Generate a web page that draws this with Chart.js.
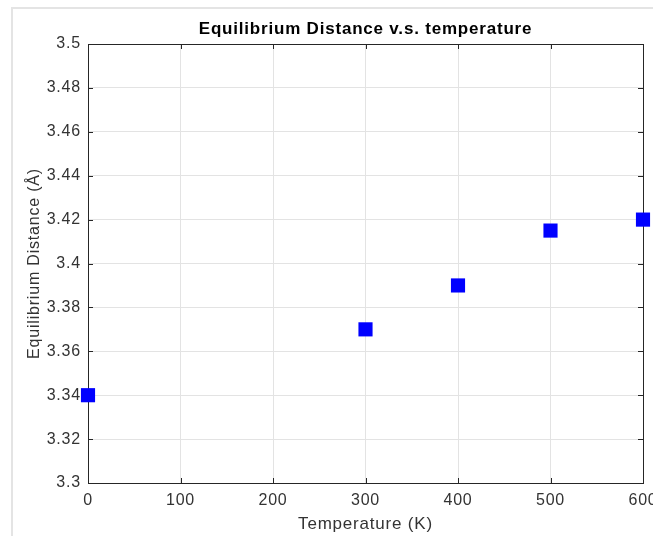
<!DOCTYPE html>
<html>
<head>
<meta charset="utf-8">
<script src="https://cdn.jsdelivr.net/npm/chart.js@4/dist/chart.umd.min.js"></script>
<style>
  html, body { margin: 0; padding: 0; background: #fff; }
  #wrap { width: 653px; height: 536px; }
</style>
</head>
<body>
<div id="wrap"><canvas id="eqChart" width="653" height="536"></canvas></div>
<script>
// temperatures (K) and equilibrium distance (Å)
const temperatures = [0, 300, 400, 500, 600];
const distances = [3.34, 3.37, 3.39, 3.415, 3.42];
const xTicks = [0, 100, 200, 300, 400, 500, 600];
const yTicks = [3.3, 3.32, 3.34, 3.36, 3.38, 3.4, 3.42, 3.44, 3.46, 3.48, 3.5];

const axisColor = "#262626";
const labelColor = "#333333";
const fontFamily = "'Liberation Sans', Arial, Helvetica, sans-serif";
const spacing = "0.8px"; // matlab text renders a bit wider than arial

// matlab-like box with inward ticks, plus the grey figure edge
const matlabBox = {
    id: "matlabBox",
    beforeLayout(chart) {
        chart.ctx.letterSpacing = spacing;
    },
    beforeDraw(chart) {
        const ctx = chart.ctx;
        ctx.letterSpacing = spacing;
        ctx.save();
        ctx.fillStyle = "#fff";
        ctx.fillRect(0, 0, chart.width, chart.height);
        ctx.strokeStyle = "#e4e4e4";
        ctx.lineWidth = 2;
        ctx.beginPath();
        ctx.moveTo(12, chart.height);
        ctx.lineTo(12, 8);
        ctx.lineTo(chart.width, 8);
        ctx.stroke();
        ctx.restore();
    },
    beforeDatasetsDraw(chart) {
        const { ctx, chartArea: a, scales } = chart;
        const len = 5;
        ctx.save();
        ctx.strokeStyle = axisColor;
        ctx.lineWidth = 1;
        ctx.beginPath();
        scales.x.ticks.forEach((t, i) => {
            const px = Math.round(scales.x.getPixelForTick(i)) + 0.5;
            ctx.moveTo(px, a.bottom); ctx.lineTo(px, a.bottom - len);
            ctx.moveTo(px, a.top); ctx.lineTo(px, a.top + len);
        });
        scales.y.ticks.forEach((t, i) => {
            const py = Math.round(scales.y.getPixelForTick(i)) + 0.5;
            ctx.moveTo(a.left, py); ctx.lineTo(a.left + len, py);
            ctx.moveTo(a.right, py); ctx.lineTo(a.right - len, py);
        });
        ctx.stroke();
        ctx.strokeRect(Math.round(a.left) + 0.5, Math.round(a.top) + 0.5,
            Math.round(a.right - a.left), Math.round(a.bottom - a.top));
        ctx.restore();
    }
};

new Chart(document.getElementById("eqChart"), {
    type: "scatter",
    data: {
        datasets: [{
            data: temperatures.map((t, i) => ({ x: t, y: distances[i] })),
            pointStyle: "rect",
            pointRadius: 10,
            pointHoverRadius: 10,
            backgroundColor: "#0000ff",
            borderColor: "#0000ff",
            borderWidth: 0,
            showLine: false,
            clip: false
        }]
    },
    options: {
        responsive: false,
        animation: false,
        layout: { padding: { left: 0, right: 10, top: 0, bottom: 0 } },
        plugins: {
            legend: { display: false },
            tooltip: { enabled: false },
            title: {
                display: true,
                text: "Equilibrium Distance v.s. temperature",
                fullSize: false,
                color: "#000",
                font: { family: fontFamily, size: 17, weight: "bold" },
                padding: { top: 19, bottom: 4.6 }
            }
        },
        scales: {
            x: {
                type: "linear",
                min: 0,
                max: 600,
                afterBuildTicks: s => { s.ticks = xTicks.map(v => ({ value: v })); },
                afterFit: s => { s.height = 53; s.paddingLeft = 0; s.paddingRight = 0; },
                grid: { color: "#e3e3e3", drawTicks: false },
                border: { display: false },
                ticks: { color: labelColor, padding: 8, maxRotation: 0, autoSkip: false,
                    font: { family: fontFamily, size: 16 } },
                title: { display: true, text: "Temperature (K)", color: labelColor,
                    font: { family: fontFamily, size: 17 }, padding: { top: 1, bottom: 1 } }
            },
            y: {
                type: "linear",
                min: 3.3,
                max: 3.5,
                afterBuildTicks: s => { s.ticks = yTicks.map(v => ({ value: v })); },
                afterFit: s => { s.width = 88; },
                grid: { color: "#e3e3e3", drawTicks: false },
                border: { display: false },
                ticks: { color: labelColor, padding: 7, autoSkip: false,
                    font: { family: fontFamily, size: 16 },
                    callback: v => String(+v.toFixed(2)) },
                title: { display: true, text: "Equilibrium Distance (Å)", color: labelColor,
                    font: { family: fontFamily, size: 16 }, padding: { top: 25, bottom: 25 } }
            }
        }
    },
    plugins: [matlabBox]
});
</script>
</body>
</html>
